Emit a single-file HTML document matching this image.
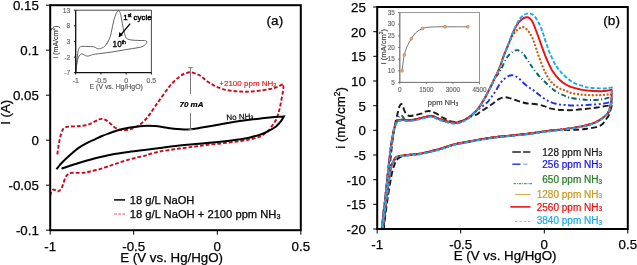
<!DOCTYPE html>
<html><head><meta charset="utf-8"><style>html,body{margin:0;padding:0;background:#fff;}body{width:637px;height:265px;overflow:hidden;position:relative;font-family:"Liberation Sans", sans-serif;}</style></head><body>
<svg width="637" height="265" viewBox="0 0 637 265" style="position:absolute;left:0;top:0;will-change:transform" font-family='"Liberation Sans", sans-serif'>
<rect x="0" y="0" width="637" height="265" fill="#fff"/>
<defs><clipPath id="cl"><rect x="50.2" y="5.2" width="250.6" height="225.0"/></clipPath><clipPath id="cr"><rect x="377.2" y="7.0" width="250.6" height="222.0"/></clipPath></defs>
<g clip-path="url(#cl)" fill="none">
<path d="M57.3,154.5 C57.5,153.3 57.9,149.9 58.3,147.5 C58.7,145.1 59.1,142.3 59.6,140.0 C60.1,137.7 60.6,135.3 61.2,133.5 C61.8,131.7 62.4,130.3 63.0,129.3 C63.6,128.3 64.1,127.9 65.1,127.4 C66.1,127.0 67.2,126.8 69.0,126.6 C70.8,126.4 73.8,126.4 75.6,126.3 C77.4,126.2 78.3,126.2 80.0,126.0 C81.7,125.8 84.1,125.6 85.8,125.3 C87.5,125.0 88.5,124.7 90.0,124.0 C91.5,123.3 93.5,122.2 95.0,121.4 C96.5,120.6 97.8,119.7 99.0,119.3 C100.2,118.9 101.0,118.8 102.1,118.9 C103.2,119.0 104.3,119.2 105.5,119.8 C106.7,120.4 107.8,121.3 109.0,122.3 C110.2,123.3 111.5,124.8 113.0,126.0 C114.5,127.2 116.3,128.5 117.9,129.2 C119.5,129.9 120.8,130.1 122.5,130.2 C124.2,130.3 126.4,130.1 128.0,129.8 C129.6,129.6 130.7,129.2 132.2,128.7 C133.7,128.1 135.5,127.4 137.0,126.5 C138.5,125.6 139.8,124.8 141.3,123.5 C142.8,122.2 144.5,120.7 146.0,119.0 C147.5,117.3 148.8,115.7 150.3,113.6 C151.8,111.5 153.4,108.8 155.0,106.5 C156.6,104.2 157.8,102.5 160.0,99.5 C162.2,96.5 165.8,91.2 168.1,88.2 C170.4,85.2 172.0,83.5 174.0,81.5 C176.0,79.5 178.4,77.4 180.2,76.1 C182.0,74.8 183.2,74.1 185.0,73.5 C186.8,72.9 188.6,72.1 190.8,72.3 C193.0,72.5 196.3,73.7 198.3,74.6 C200.3,75.5 201.5,76.6 203.0,77.8 C204.5,79.0 205.9,80.5 207.4,81.6 C208.9,82.7 210.5,83.6 212.0,84.4 C213.5,85.2 214.7,86.0 216.4,86.7 C218.1,87.4 220.2,88.2 222.0,88.8 C223.8,89.4 224.8,89.8 227.1,90.2 C229.4,90.6 233.0,91.0 236.0,91.3 C239.0,91.5 242.2,91.7 245.2,91.7 C248.2,91.7 251.0,91.5 254.0,91.3 C257.0,91.0 260.6,90.6 263.3,90.2 C266.0,89.8 268.0,89.4 270.0,89.0 C272.0,88.6 273.8,88.1 275.4,87.6 C277.0,87.1 278.2,86.5 279.5,85.9 C280.8,85.3 282.4,84.2 283.0,83.9 L283.0,83.9 C283.1,84.4 283.4,85.7 283.4,87.0 C283.4,88.3 283.2,90.0 282.9,92.0 C282.6,94.0 282.0,96.8 281.5,99.3 C281.0,101.8 280.5,104.7 280.0,107.0 C279.5,109.3 279.1,110.9 278.5,113.0 C277.9,115.1 277.1,117.6 276.2,119.5 C275.3,121.4 274.3,122.7 273.0,124.5 C271.7,126.3 270.1,128.8 268.5,130.5 C266.9,132.2 265.1,133.4 263.5,134.5 C261.9,135.6 260.9,136.4 258.7,137.2 C256.4,138.0 253.0,138.7 250.0,139.3 C247.0,140.0 244.1,140.6 240.6,141.1 C237.1,141.6 232.8,142.1 229.0,142.5 C225.2,142.9 221.8,143.4 218.0,143.8 C214.2,144.2 209.8,144.6 206.0,145.0 C202.2,145.4 199.0,146.0 195.3,146.5 C191.6,147.0 187.8,147.5 184.0,148.0 C180.2,148.5 176.7,148.9 172.7,149.5 C168.7,150.1 163.8,150.8 160.0,151.5 C156.2,152.2 152.6,153.3 150.0,154.0 C147.4,154.7 146.8,155.1 144.3,155.8 C141.8,156.5 138.0,157.2 135.0,158.0 C132.0,158.8 129.2,159.5 126.2,160.4 C123.2,161.3 120.0,162.4 117.0,163.4 C114.0,164.4 111.1,165.4 108.1,166.4 C105.1,167.4 102.0,168.6 99.0,169.4 C96.0,170.2 92.5,170.9 90.0,171.5 C87.5,172.1 86.4,172.6 84.0,172.8 C81.6,173.0 77.8,172.8 75.6,172.8 C73.4,172.8 72.2,172.7 71.0,172.9 C69.8,173.1 69.4,173.1 68.5,173.8 C67.6,174.5 66.4,175.6 65.5,177.3 C64.6,179.0 63.9,182.1 63.3,183.8 C62.7,185.5 62.4,186.4 61.9,187.5 C61.4,188.6 60.7,189.5 60.0,190.2 C59.3,190.9 58.3,191.5 57.5,191.5 C56.7,191.5 55.8,190.3 55.0,190.0 C54.2,189.7 53.6,189.3 53.0,189.6 C52.4,189.8 51.9,190.7 51.5,191.5 C51.1,192.3 50.8,193.1 50.6,194.2 C50.4,195.3 50.3,197.4 50.2,198.0" stroke="#c80a1e" stroke-width="1.9" stroke-dasharray="3.8 2" />
<path d="M56.4,169.2 C57.0,168.5 58.5,166.5 60.0,164.8 C61.5,163.2 63.4,161.2 65.4,159.3 C67.4,157.4 69.7,155.1 72.0,153.2 C74.3,151.2 76.4,149.4 79.0,147.6 C81.6,145.8 85.0,144.0 87.7,142.6 C90.4,141.2 92.6,140.4 95.0,139.3 C97.4,138.2 99.5,137.1 102.0,136.0 C104.5,134.9 107.5,133.9 110.0,133.0 C112.5,132.1 114.7,131.2 117.2,130.5 C119.7,129.8 122.5,129.1 125.0,128.6 C127.5,128.1 129.7,127.7 132.2,127.3 C134.7,126.9 137.5,126.5 140.0,126.2 C142.5,125.9 144.8,125.7 147.3,125.7 C149.8,125.7 152.3,125.8 155.0,126.0 C157.7,126.2 161.1,126.8 163.6,127.2 C166.1,127.6 167.7,127.9 170.0,128.2 C172.3,128.5 174.9,128.8 177.2,129.0 C179.5,129.2 181.7,129.4 184.0,129.4 C186.3,129.4 188.5,129.4 190.8,129.2 C193.1,129.0 195.4,128.6 198.0,128.2 C200.6,127.8 203.3,127.4 206.6,126.8 C209.9,126.2 214.2,125.5 218.0,124.8 C221.8,124.1 225.6,123.3 229.3,122.7 C233.0,122.1 236.3,121.6 240.0,121.1 C243.7,120.6 247.5,120.1 251.2,119.6 C254.9,119.1 258.5,118.7 262.0,118.3 C265.5,117.9 268.4,117.6 272.0,117.3 C275.6,117.0 281.8,116.6 283.8,116.4 L283.8,116.4 C283.3,117.2 282.3,119.4 281.0,121.1 C279.7,122.8 277.8,125.0 276.0,126.5 C274.2,128.0 272.3,128.9 270.0,130.2 C267.7,131.4 265.3,132.8 262.0,134.0 C258.7,135.2 253.6,136.6 250.0,137.5 C246.4,138.4 245.9,138.6 240.6,139.3 C235.3,140.1 225.6,141.2 218.0,142.0 C210.4,142.8 202.9,143.3 195.3,144.0 C187.8,144.7 178.6,145.5 172.7,146.2 C166.8,146.9 164.7,147.4 160.0,148.0 C155.3,148.6 149.9,149.3 144.3,150.0 C138.7,150.7 132.2,151.3 126.2,152.2 C120.2,153.1 114.1,153.9 108.1,155.2 C102.1,156.4 96.0,158.1 90.0,159.7 C84.0,161.3 76.9,163.5 72.2,165.0 C67.5,166.5 63.4,168.1 61.6,168.7" stroke="#000" stroke-width="2" />
</g>
<g stroke="#7a7a7a" stroke-width="1" fill="none">
<path d="M190.5,67.6 V94 M190.5,112.8 V129.6 M188.3,67.6 H192.7 M188.3,129.6 H192.7"/>
</g>
<text x="179.5" y="106.8" font-size="8.00" text-anchor="start" fill="#000" stroke="#000" stroke-width="0.18" font-weight="bold" font-style="italic">70 mA</text>
<text x="219.3" y="86.3" font-size="8.00" text-anchor="start" fill="#ee1c1c" stroke="#ee1c1c" stroke-width="0.18" >+2100 ppm NH<tspan font-size="5.12" dy="0.40">3</tspan></text>
<text x="226.5" y="120.2" font-size="8.00" text-anchor="start" fill="#000" stroke="#000" stroke-width="0.18" transform="rotate(-3 226.5 120.2)">No NH<tspan font-size="5.12" dy="0.40">3</tspan></text>
<text x="266.6" y="25.0" font-size="13.60" text-anchor="start" fill="#000" stroke="#000" stroke-width="0.25" >(a)</text>
<rect x="75.7" y="10.2" width="75.7" height="62.5" fill="#fff" stroke="none"/>
<g fill="none" stroke="#5a5a5a" stroke-width="0.95">
<path d="M75.9,72.5 C76.0,71.1 76.3,66.9 76.6,64.0 C76.9,61.1 77.2,57.4 77.5,55.0 C77.8,52.6 78.1,50.8 78.5,49.5 C78.9,48.2 79.2,47.7 79.8,47.2 C80.4,46.7 80.7,46.5 81.9,46.4 C83.1,46.3 85.0,46.4 87.0,46.5 C89.0,46.6 92.0,46.5 93.7,46.8 C95.4,47.1 96.2,48.2 97.2,48.5 C98.2,48.8 98.8,48.8 99.5,48.7 C100.2,48.7 100.6,48.5 101.3,48.2 C102.0,48.0 102.8,47.6 103.5,47.2 C104.2,46.8 104.8,46.3 105.4,45.6 C106.0,44.9 106.7,43.8 107.3,42.8 C107.9,41.8 108.4,41.0 109.0,39.7 C109.6,38.4 110.0,37.6 110.7,35.0 C111.4,32.4 112.3,27.1 113.0,24.0 C113.7,20.9 114.2,18.6 115.0,16.5 C115.8,14.4 116.8,12.0 117.5,11.2 C118.2,10.4 118.9,10.8 119.5,11.6 C120.1,12.4 120.5,13.6 121.0,16.0 C121.5,18.4 122.2,23.1 122.8,26.0 C123.4,28.9 124.0,31.6 124.5,33.5 C125.0,35.4 125.5,36.6 126.0,37.5 C126.5,38.4 127.0,38.7 127.8,39.1 C128.6,39.5 129.8,39.7 131.0,39.9 C132.2,40.1 133.4,40.2 134.9,40.3 C136.4,40.4 138.2,40.4 140.0,40.5 C141.8,40.6 144.4,40.5 145.5,40.7 C146.6,40.9 146.6,41.0 146.7,41.5 C146.8,42.0 146.8,42.9 146.0,43.8 C145.2,44.7 143.7,46.1 142.0,46.8 C140.3,47.5 138.2,47.6 136.0,48.0 C133.8,48.4 131.7,48.7 129.0,49.1 C126.3,49.5 123.0,50.1 120.0,50.6 C117.0,51.1 114.3,51.7 111.3,52.1 C108.3,52.5 104.9,52.9 102.0,53.3 C99.1,53.7 95.7,54.0 93.7,54.4 C91.7,54.8 91.0,55.2 90.0,55.5 C89.0,55.8 88.6,56.1 87.8,56.1 C87.0,56.1 86.3,56.0 85.4,55.6 C84.5,55.2 83.3,54.1 82.5,53.9 C81.7,53.7 81.3,54.0 80.7,54.4 C80.1,54.8 79.5,55.3 79.0,56.2 C78.5,57.1 78.0,58.4 77.6,60.0 C77.2,61.6 76.8,64.0 76.5,66.0 C76.2,68.0 76.1,71.0 76.0,72.0"/>
<path d="M106.5,44.3 C106.8,43.8 107.9,42.0 108.2,41.6"/>
</g>
<path d="M75.7,10.2 H151.4 V72.7" fill="none" stroke="#333" stroke-width="0.9"/>
<path d="M75.7,10.2 V72.7 H151.4" fill="none" stroke="#111" stroke-width="1.3"/>
<path d="M73.9,10.2 H75.7 M73.9,25.8 H75.7 M73.9,41.5 H75.7 M73.9,57.1 H75.7 M73.9,72.7 H75.7 M75.7,72.7 V74.5 M100.9,72.7 V74.5 M126.2,72.7 V74.5 M151.4,72.7 V74.5 " stroke="#111" stroke-width="1"/>
<text x="70.4" y="12.6" font-size="6.80" text-anchor="end" fill="#666" stroke="#666" stroke-width="0.15" >13</text>
<text x="70.4" y="28.2" font-size="6.80" text-anchor="end" fill="#666" stroke="#666" stroke-width="0.15" >8</text>
<text x="70.4" y="43.9" font-size="6.80" text-anchor="end" fill="#666" stroke="#666" stroke-width="0.15" >3</text>
<text x="70.4" y="59.5" font-size="6.80" text-anchor="end" fill="#666" stroke="#666" stroke-width="0.15" >-2</text>
<text x="70.4" y="75.1" font-size="6.80" text-anchor="end" fill="#666" stroke="#666" stroke-width="0.15" >-7</text>
<text x="75.7" y="83.4" font-size="6.90" text-anchor="middle" fill="#666" stroke="#666" stroke-width="0.16" >-1</text>
<text x="100.9" y="83.4" font-size="6.90" text-anchor="middle" fill="#666" stroke="#666" stroke-width="0.16" >-0.5</text>
<text x="126.2" y="83.4" font-size="6.90" text-anchor="middle" fill="#666" stroke="#666" stroke-width="0.16" >0</text>
<text x="151.4" y="83.4" font-size="6.90" text-anchor="middle" fill="#666" stroke="#666" stroke-width="0.16" >0.5</text>
<text x="89.6" y="89.2" font-size="6.90" text-anchor="start" fill="#555" stroke="#555" stroke-width="0.16" >E (V vs. Hg/HgO)</text>
<text x="0.0" y="0.0" font-size="7.10" text-anchor="middle" fill="#3a3a3a" stroke="#3a3a3a" stroke-width="0.16" transform="translate(57.9,42) rotate(-90)">i (mA/cm<tspan font-size="4.5" dy="-2.5">2</tspan><tspan dy="2.5">)</tspan></text>
<path d="M130.2,23.6 L121.0,34.6" stroke="#000" stroke-width="1.4"/>
<path d="M118.6,37.4 L119.3,31.9 L123.0,35.0 Z" fill="#000"/>
<text x="123.3" y="19.7" font-size="7.90" text-anchor="start" fill="#000" stroke="#000" stroke-width="0.42" >1<tspan font-size="4.8" dy="-2.9">st</tspan><tspan dy="2.9"> cycle</tspan></text>
<text x="112.6" y="47.4" font-size="8.20" text-anchor="start" fill="#000" stroke="#000" stroke-width="0.35" >10<tspan font-size="5" dy="-3">th</tspan></text>
<rect x="50.2" y="5.2" width="250.6" height="225.0" fill="none" stroke="#000" stroke-width="2"/>
<path d="M46.0,5.2 H50.2 M46.0,50.2 H50.2 M46.0,95.2 H50.2 M46.0,140.2 H50.2 M46.0,185.2 H50.2 M46.0,230.2 H50.2 M50.2,230.2 V234.7 M133.7,230.2 V234.7 M217.3,230.2 V234.7 M300.8,230.2 V234.7 " stroke="#000" stroke-width="1"/>
<text x="38.8" y="10.0" font-size="13.30" text-anchor="end" fill="#000" stroke="#000" stroke-width="0.25" >0.15</text>
<text x="38.8" y="55.0" font-size="13.30" text-anchor="end" fill="#000" stroke="#000" stroke-width="0.25" >0.1</text>
<text x="38.8" y="100.0" font-size="13.30" text-anchor="end" fill="#000" stroke="#000" stroke-width="0.25" >0.05</text>
<text x="38.8" y="145.0" font-size="13.30" text-anchor="end" fill="#000" stroke="#000" stroke-width="0.25" >0</text>
<text x="38.8" y="190.0" font-size="13.30" text-anchor="end" fill="#000" stroke="#000" stroke-width="0.25" >-0.05</text>
<text x="38.8" y="235.0" font-size="13.30" text-anchor="end" fill="#000" stroke="#000" stroke-width="0.25" >-0.1</text>
<text x="50.2" y="250.8" font-size="13.30" text-anchor="middle" fill="#000" stroke="#000" stroke-width="0.25" >-1</text>
<text x="133.7" y="250.8" font-size="13.30" text-anchor="middle" fill="#000" stroke="#000" stroke-width="0.25" >-0.5</text>
<text x="217.3" y="250.8" font-size="13.30" text-anchor="middle" fill="#000" stroke="#000" stroke-width="0.25" >0</text>
<text x="300.8" y="250.8" font-size="13.30" text-anchor="middle" fill="#000" stroke="#000" stroke-width="0.25" >0.5</text>
<text x="120.3" y="262.0" font-size="13.30" text-anchor="start" fill="#000" stroke="#000" stroke-width="0.25" >E (V vs. Hg/HgO)</text>
<text x="0.0" y="0.0" font-size="13.30" text-anchor="middle" fill="#000" stroke="#000" stroke-width="0.25" transform="translate(10.3,112.3) rotate(-90)">I (A)</text>
<path d="M114.1,199.9 H125.1" stroke="#000" stroke-width="1.5"/>
<path d="M114.1,214 H125.1" stroke="#e03030" stroke-width="0.9" stroke-dasharray="2.6 1.6"/>
<text x="129.8" y="203.6" font-size="11.15" text-anchor="start" fill="#000" stroke="#000" stroke-width="0.25" >18 g/L NaOH</text>
<text x="129.8" y="218.0" font-size="11.20" text-anchor="start" fill="#000" stroke="#000" stroke-width="0.25" >18 g/L NaOH + 2100 ppm NH<tspan font-size="7.17" dy="0.56">3</tspan></text>
<g clip-path="url(#cr)" fill="none">
<path d="M382.9,233.0 C383.0,232.3 383.0,232.8 383.4,229.0 C383.8,225.2 384.6,217.3 385.3,210.0 C386.1,202.7 387.0,193.3 387.9,185.0 C388.8,176.7 389.6,167.5 390.4,160.0 C391.2,152.5 391.9,145.3 392.6,140.0 C393.3,134.7 394.0,131.2 394.5,128.0 C395.0,124.8 395.3,123.5 395.8,121.0 C396.3,118.5 397.1,115.5 397.7,113.1 C398.3,110.7 398.9,107.9 399.5,106.4 C400.1,104.9 400.7,103.9 401.3,104.0 C401.9,104.1 402.5,105.7 403.1,107.0 C403.7,108.3 404.2,110.6 404.9,111.9 C405.6,113.2 406.7,114.3 407.5,115.0 C408.3,115.7 408.4,116.0 409.7,116.0 C410.9,116.0 413.1,115.6 415.0,115.2 C416.9,114.8 419.4,114.3 421.2,113.7 C423.0,113.1 424.5,111.8 426.0,111.4 C427.5,111.0 428.7,110.9 430.3,111.2 C431.9,111.5 433.6,112.2 435.6,113.2 C437.6,114.2 440.1,116.0 442.2,117.2 C444.3,118.4 446.2,119.6 448.3,120.4 C450.4,121.2 452.7,121.9 455.0,122.0 C457.3,122.1 460.0,121.6 462.0,121.0 C464.0,120.4 465.4,119.2 467.0,118.5 C468.6,117.8 469.7,117.2 471.3,116.5 C472.9,115.8 475.2,115.3 476.6,114.6 C478.1,113.8 478.6,112.9 480.0,112.0 C481.4,111.1 483.2,110.1 484.8,109.1 C486.4,108.0 488.2,106.9 489.9,105.7 C491.6,104.5 493.4,103.2 495.0,102.0 C496.6,100.8 497.6,99.6 499.3,98.8 C501.0,98.0 503.2,97.3 505.2,97.3 C507.1,97.2 509.0,98.0 511.0,98.5 C513.0,99.0 515.2,100.0 517.1,100.6 C519.0,101.2 520.4,101.8 522.2,102.3 C524.0,102.8 525.6,103.2 528.0,103.5 C530.4,103.8 533.9,103.9 536.6,104.3 C539.3,104.7 542.0,105.4 544.2,106.1 C546.4,106.8 548.1,107.8 550.0,108.3 C551.9,108.8 553.5,109.1 555.5,109.4 C557.5,109.7 559.1,109.9 562.0,110.0 C564.9,110.1 568.9,110.3 572.7,110.1 C576.5,109.9 581.0,109.4 585.0,109.0 C589.0,108.6 593.0,108.1 597.0,107.5 C601.0,106.9 606.5,105.8 609.0,105.6 C611.5,105.3 611.2,105.9 611.7,106.0 L611.7,106.0 C611.5,106.7 611.0,108.5 610.5,110.0 C610.0,111.5 609.6,113.6 608.8,115.3 C608.0,117.0 606.6,118.5 605.5,120.0 C604.4,121.5 603.6,123.3 602.0,124.5 C600.4,125.7 598.3,126.5 596.0,127.2 C593.7,127.9 590.7,128.2 588.0,128.6 C585.3,129.0 583.0,129.4 580.0,129.6 C577.0,129.8 573.9,129.9 570.0,130.0 C566.1,130.1 561.2,129.7 556.7,130.0 C552.2,130.3 547.8,131.0 543.3,131.6 C538.8,132.2 535.5,132.8 530.0,133.5 C524.5,134.2 516.2,135.0 510.6,135.6 C505.0,136.2 501.2,136.4 496.5,137.0 C491.8,137.6 487.1,138.3 482.4,139.1 C477.7,139.9 472.9,140.8 468.2,141.7 C463.5,142.6 458.7,143.3 454.1,144.5 C449.5,145.7 444.1,147.8 440.4,148.9 C436.7,150.0 434.5,150.4 432.0,151.0 C429.5,151.6 427.6,152.1 425.3,152.6 C423.0,153.1 420.5,153.6 418.0,154.0 C415.5,154.4 412.5,154.6 410.2,154.8 C407.9,155.0 406.0,154.8 404.0,155.4 C402.0,156.0 399.6,157.4 398.2,158.5 C396.8,159.6 396.3,160.7 395.6,162.0 C394.9,163.3 394.4,164.8 393.8,166.5 C393.2,168.2 392.8,169.4 392.2,172.0 C391.6,174.6 391.0,178.2 390.3,182.0 C389.6,185.8 388.9,190.3 388.2,195.0 C387.5,199.7 386.7,205.0 386.0,210.0 C385.3,215.0 384.6,221.2 384.2,225.0 C383.8,228.8 383.8,231.7 383.7,233.0" stroke="#1a1a1a" stroke-width="1.9" stroke-linecap="butt" stroke-dasharray="6 3"/>
<path d="M381.3,233.0 C381.4,232.3 381.4,232.3 381.8,229.0 C382.2,225.7 382.9,218.5 383.5,213.0 C384.1,207.5 384.8,202.8 385.5,196.0 C386.2,189.2 387.2,179.7 388.0,172.0 C388.8,164.3 389.8,155.8 390.5,150.0 C391.2,144.2 391.9,140.4 392.5,137.0 C393.1,133.6 393.3,131.9 394.0,129.4 C394.7,126.9 395.8,123.6 396.5,122.1 C397.2,120.6 397.4,120.7 398.3,120.3 C399.2,119.9 400.1,119.7 401.9,119.7 C403.7,119.7 406.7,120.4 409.1,120.3 C411.5,120.2 414.0,119.7 416.4,119.2 C418.8,118.7 421.3,117.9 423.6,117.4 C425.9,116.9 428.3,116.1 430.0,116.0 C431.7,115.9 432.6,116.2 434.0,116.6 C435.4,117.0 436.2,117.7 438.2,118.5 C440.2,119.3 444.1,120.6 446.2,121.2 C448.3,121.8 449.5,122.0 451.0,122.3 C452.5,122.6 454.0,122.8 455.4,122.8 C456.8,122.8 458.2,122.6 459.5,122.2 C460.8,121.8 462.1,121.1 463.4,120.5 C464.6,119.9 465.9,119.2 467.0,118.5 C468.1,117.8 468.8,117.5 470.0,116.5 C471.2,115.5 472.7,114.0 474.0,112.8 C475.3,111.6 476.3,110.8 478.0,109.5 C479.7,108.2 482.3,106.6 484.0,105.2 C485.7,103.8 486.9,102.7 488.2,101.3 C489.4,99.9 490.4,98.5 491.5,97.0 C492.6,95.5 493.9,93.8 495.0,92.0 C496.1,90.2 497.1,88.2 498.4,86.2 C499.7,84.2 501.1,81.9 502.7,80.3 C504.3,78.7 506.3,77.2 507.8,76.4 C509.3,75.6 510.4,75.3 511.6,75.2 C512.8,75.1 513.8,75.5 515.0,76.0 C516.2,76.5 517.5,77.3 518.8,78.4 C520.1,79.5 521.6,81.2 523.0,82.5 C524.4,83.8 526.0,85.2 527.3,86.2 C528.6,87.2 529.8,88.0 531.0,88.8 C532.2,89.6 533.3,90.1 534.5,91.0 C535.7,91.9 536.8,93.0 538.0,94.0 C539.2,95.0 540.3,95.8 542.0,97.0 C543.7,98.2 545.7,99.9 548.0,101.0 C550.3,102.1 553.0,103.1 556.0,103.8 C559.0,104.5 562.5,104.8 566.0,105.1 C569.5,105.4 573.2,105.5 577.2,105.4 C581.2,105.4 585.8,105.1 590.0,104.8 C594.2,104.5 598.9,104.2 602.2,103.8 C605.5,103.4 608.4,102.3 610.0,102.2 C611.6,102.1 611.3,102.9 611.6,103.0 L611.6,103.0 C611.6,102.3 611.8,98.1 611.6,98.7 C611.4,99.3 611.0,104.2 610.4,106.5 C609.8,108.8 609.3,110.8 608.3,112.5 C607.3,114.2 606.0,115.2 604.5,116.5 C603.0,117.8 601.4,119.0 599.4,120.2 C597.4,121.4 595.4,122.4 592.7,123.4 C590.0,124.4 587.2,125.2 583.4,126.0 C579.6,126.8 574.5,127.7 570.0,128.4 C565.5,129.1 561.2,129.5 556.7,130.0 C552.2,130.5 547.8,131.0 543.3,131.6 C538.8,132.2 535.5,132.8 530.0,133.5 C524.5,134.2 516.2,135.0 510.6,135.6 C505.0,136.2 501.2,136.4 496.5,137.0 C491.8,137.6 487.1,138.3 482.4,139.1 C477.7,139.9 472.9,140.8 468.2,141.7 C463.5,142.6 458.7,143.3 454.1,144.5 C449.5,145.7 444.1,147.8 440.4,148.9 C436.7,150.0 434.5,150.4 432.0,151.0 C429.5,151.6 427.6,152.1 425.3,152.6 C423.0,153.1 420.5,153.6 418.0,154.0 C415.5,154.4 412.5,154.6 410.2,154.8 C407.9,155.0 406.0,155.2 404.0,155.4 C402.0,155.7 399.5,155.9 398.1,156.3 C396.7,156.7 396.2,157.2 395.5,158.0 C394.8,158.8 394.2,159.8 393.6,161.0 C393.0,162.2 392.3,163.7 391.8,165.0 C391.3,166.3 391.0,166.5 390.5,169.0 C390.0,171.5 389.6,175.7 389.0,180.0 C388.4,184.3 387.7,190.0 387.0,195.0 C386.3,200.0 385.7,204.8 385.0,210.0 C384.3,215.2 383.4,222.2 383.0,226.0 C382.6,229.8 382.7,231.8 382.6,233.0" stroke="#1f2fe6" stroke-width="1.9" stroke-linecap="butt" stroke-dasharray="6 2.5 2 2.5 2 2.5"/>
<path d="M381.3,233.0 C381.4,232.3 381.4,232.3 381.8,229.0 C382.2,225.7 382.9,218.5 383.5,213.0 C384.1,207.5 384.8,202.8 385.5,196.0 C386.2,189.2 387.2,179.7 388.0,172.0 C388.8,164.3 389.8,155.8 390.5,150.0 C391.2,144.2 391.9,140.4 392.5,137.0 C393.1,133.6 393.3,132.1 394.0,129.4 C394.7,126.7 395.9,122.9 396.6,121.0 C397.3,119.1 397.4,118.7 398.0,117.8 C398.6,116.9 399.4,115.9 400.1,115.6 C400.9,115.3 401.9,115.7 402.5,116.2 C403.1,116.7 403.3,117.9 404.0,118.5 C404.7,119.1 405.6,119.7 406.5,120.0 C407.4,120.3 407.5,120.5 409.1,120.4 C410.8,120.3 414.0,119.7 416.4,119.2 C418.8,118.7 421.3,117.9 423.6,117.4 C425.9,116.9 428.3,116.1 430.0,116.0 C431.7,115.9 432.6,116.2 434.0,116.6 C435.4,117.0 436.2,117.7 438.2,118.5 C440.2,119.3 444.1,120.6 446.2,121.2 C448.3,121.8 449.5,122.0 451.0,122.3 C452.5,122.6 454.0,122.8 455.4,122.8 C456.8,122.8 458.2,122.6 459.5,122.2 C460.8,121.8 462.1,121.1 463.4,120.5 C464.6,119.9 465.9,119.2 467.0,118.5 C468.1,117.8 468.6,117.6 470.0,116.5 C471.4,115.4 473.6,113.7 475.3,111.9 C477.0,110.2 478.6,108.1 480.0,106.0 C481.4,103.9 482.7,101.8 484.0,99.5 C485.3,97.2 486.7,94.5 488.0,92.0 C489.3,89.5 490.8,86.5 492.0,84.3 C493.2,82.0 494.0,80.2 495.0,78.5 C496.0,76.8 497.1,75.5 498.0,74.2 C498.9,72.9 499.6,71.9 500.3,70.6 C501.1,69.3 501.6,68.1 502.5,66.3 C503.4,64.5 504.7,61.7 505.6,60.0 C506.5,58.3 506.9,57.6 508.0,56.2 C509.1,54.9 511.1,52.9 512.4,51.9 C513.6,50.9 514.5,50.6 515.5,50.4 C516.5,50.1 517.2,49.9 518.4,50.4 C519.6,50.9 521.5,51.9 522.9,53.3 C524.3,54.7 525.4,57.1 526.7,59.0 C528.0,60.9 529.4,62.9 530.5,64.6 C531.6,66.2 532.1,67.0 533.5,68.9 C534.9,70.8 537.3,73.9 539.0,75.8 C540.7,77.7 542.0,79.0 543.5,80.5 C545.0,82.0 546.5,83.4 548.0,84.8 C549.5,86.2 551.0,87.8 552.5,89.0 C554.0,90.2 555.2,91.2 557.0,92.2 C558.8,93.2 561.0,94.1 563.0,95.0 C565.0,95.9 566.2,96.8 569.0,97.5 C571.8,98.2 576.5,98.8 580.0,99.2 C583.5,99.6 586.7,99.9 590.0,100.0 C593.3,100.1 597.3,99.8 600.0,99.6 C602.7,99.3 604.4,98.8 606.0,98.5 C607.6,98.2 608.6,97.5 609.5,97.6 C610.4,97.7 611.2,98.8 611.6,99.0 L611.6,99.0 C611.6,99.0 611.8,97.5 611.6,98.7 C611.4,100.0 611.0,104.2 610.4,106.5 C609.8,108.8 609.3,110.8 608.3,112.5 C607.3,114.2 606.0,115.2 604.5,116.5 C603.0,117.8 601.4,119.0 599.4,120.2 C597.4,121.4 595.4,122.4 592.7,123.4 C590.0,124.4 587.2,125.2 583.4,126.0 C579.6,126.8 574.5,127.7 570.0,128.4 C565.5,129.1 561.2,129.5 556.7,130.0 C552.2,130.5 547.8,131.0 543.3,131.6 C538.8,132.2 535.5,132.8 530.0,133.5 C524.5,134.2 516.2,135.0 510.6,135.6 C505.0,136.2 501.2,136.4 496.5,137.0 C491.8,137.6 487.1,138.3 482.4,139.1 C477.7,139.9 472.9,140.8 468.2,141.7 C463.5,142.6 458.7,143.3 454.1,144.5 C449.5,145.7 444.1,147.8 440.4,148.9 C436.7,150.0 434.5,150.4 432.0,151.0 C429.5,151.6 427.6,152.1 425.3,152.6 C423.0,153.1 420.5,153.6 418.0,154.0 C415.5,154.4 412.5,154.6 410.2,154.8 C407.9,155.0 406.0,155.2 404.0,155.4 C402.0,155.7 399.5,155.9 398.1,156.3 C396.7,156.7 396.2,157.2 395.5,158.0 C394.8,158.8 394.2,159.8 393.6,161.0 C393.0,162.2 392.3,163.7 391.8,165.0 C391.3,166.3 391.0,166.5 390.5,169.0 C390.0,171.5 389.6,175.7 389.0,180.0 C388.4,184.3 387.7,190.0 387.0,195.0 C386.3,200.0 385.7,204.8 385.0,210.0 C384.3,215.2 383.4,222.2 383.0,226.0 C382.6,229.8 382.7,231.8 382.6,233.0" stroke="#0b6464" stroke-width="1.9" stroke-linecap="butt" stroke-dasharray="5 2.5 1 2.5"/>
<path d="M381.3,233.0 C381.4,232.3 381.4,232.3 381.8,229.0 C382.2,225.7 382.9,218.5 383.5,213.0 C384.1,207.5 384.8,202.8 385.5,196.0 C386.2,189.2 387.2,179.7 388.0,172.0 C388.8,164.3 389.8,155.8 390.5,150.0 C391.2,144.2 391.9,140.4 392.5,137.0 C393.1,133.6 393.3,131.9 394.0,129.4 C394.7,126.9 395.8,123.6 396.5,122.1 C397.2,120.6 397.4,120.7 398.3,120.3 C399.2,119.9 400.1,119.7 401.9,119.7 C403.7,119.7 406.7,120.4 409.1,120.3 C411.5,120.2 414.0,119.7 416.4,119.2 C418.8,118.7 421.3,117.9 423.6,117.4 C425.9,116.9 428.3,116.1 430.0,116.0 C431.7,115.9 432.6,116.2 434.0,116.6 C435.4,117.0 436.2,117.7 438.2,118.5 C440.2,119.3 444.1,120.6 446.2,121.2 C448.3,121.8 449.5,122.0 451.0,122.3 C452.5,122.6 454.0,122.8 455.4,122.8 C456.8,122.8 458.2,122.6 459.5,122.2 C460.8,121.8 462.1,121.1 463.4,120.5 C464.6,119.9 465.9,119.2 467.0,118.5 C468.1,117.8 468.6,117.6 470.0,116.5 C471.4,115.4 473.6,113.7 475.3,111.9 C477.0,110.2 478.6,108.1 480.0,106.0 C481.4,103.9 482.7,101.8 484.0,99.5 C485.3,97.2 486.7,94.6 488.0,92.0 C489.3,89.4 490.8,86.5 492.0,84.0 C493.2,81.5 493.8,79.8 495.0,77.3 C496.2,74.8 497.6,72.8 499.0,69.3 C500.4,65.8 502.1,60.2 503.6,56.2 C505.1,52.2 506.9,48.1 508.1,45.2 C509.3,42.3 510.0,40.8 511.0,38.8 C512.0,36.8 513.0,34.8 514.2,33.2 C515.4,31.6 516.9,30.1 518.3,29.1 C519.7,28.1 521.2,27.1 522.6,27.1 C524.0,27.2 525.6,28.4 526.8,29.4 C528.0,30.4 528.9,31.8 529.8,33.2 C530.7,34.6 531.6,36.4 532.4,38.0 C533.1,39.6 533.6,41.1 534.3,43.0 C535.0,44.9 535.7,47.2 536.5,49.5 C537.3,51.8 538.1,54.2 539.0,56.8 C539.9,59.4 541.0,62.5 542.0,65.0 C543.0,67.5 544.0,69.9 545.0,72.0 C546.0,74.1 547.0,75.9 548.0,77.5 C549.0,79.1 549.8,80.2 551.0,81.5 C552.2,82.8 553.5,84.3 555.0,85.5 C556.5,86.7 558.2,87.6 560.0,88.5 C561.8,89.4 564.0,90.0 566.0,90.8 C568.0,91.6 569.5,92.6 572.0,93.2 C574.5,93.8 578.0,94.3 581.0,94.6 C584.0,94.9 586.8,95.1 590.0,95.2 C593.2,95.3 597.2,95.2 600.0,95.1 C602.8,95.0 605.2,94.8 607.0,94.6 C608.8,94.4 609.7,93.8 610.5,94.0 C611.3,94.2 611.4,95.2 611.6,95.5 L611.6,95.5 C611.6,96.0 611.8,96.9 611.6,98.7 C611.4,100.5 611.0,104.2 610.4,106.5 C609.8,108.8 609.3,110.8 608.3,112.5 C607.3,114.2 606.0,115.2 604.5,116.5 C603.0,117.8 601.4,119.0 599.4,120.2 C597.4,121.4 595.4,122.4 592.7,123.4 C590.0,124.4 587.2,125.2 583.4,126.0 C579.6,126.8 574.5,127.7 570.0,128.4 C565.5,129.1 561.2,129.5 556.7,130.0 C552.2,130.5 547.8,131.0 543.3,131.6 C538.8,132.2 535.5,132.8 530.0,133.5 C524.5,134.2 516.2,135.0 510.6,135.6 C505.0,136.2 501.2,136.4 496.5,137.0 C491.8,137.6 487.1,138.3 482.4,139.1 C477.7,139.9 472.9,140.8 468.2,141.7 C463.5,142.6 458.7,143.3 454.1,144.5 C449.5,145.7 444.1,147.8 440.4,148.9 C436.7,150.0 434.5,150.4 432.0,151.0 C429.5,151.6 427.6,152.1 425.3,152.6 C423.0,153.1 420.5,153.6 418.0,154.0 C415.5,154.4 412.5,154.6 410.2,154.8 C407.9,155.0 406.0,155.2 404.0,155.4 C402.0,155.7 399.5,155.9 398.1,156.3 C396.7,156.7 396.2,157.2 395.5,158.0 C394.8,158.8 394.2,159.8 393.6,161.0 C393.0,162.2 392.3,163.7 391.8,165.0 C391.3,166.3 391.0,166.5 390.5,169.0 C390.0,171.5 389.6,175.7 389.0,180.0 C388.4,184.3 387.7,190.0 387.0,195.0 C386.3,200.0 385.7,204.8 385.0,210.0 C384.3,215.2 383.4,222.2 383.0,226.0 C382.6,229.8 382.7,231.8 382.6,233.0" stroke="#c8601a" stroke-width="2.3" stroke-linecap="round" stroke-dasharray="0.1 3.6"/>
<path d="M381.3,233.0 C381.4,232.3 381.4,232.3 381.8,229.0 C382.2,225.7 382.9,218.5 383.5,213.0 C384.1,207.5 384.8,202.8 385.5,196.0 C386.2,189.2 387.2,179.7 388.0,172.0 C388.8,164.3 389.8,155.8 390.5,150.0 C391.2,144.2 391.9,140.4 392.5,137.0 C393.1,133.6 393.3,131.9 394.0,129.4 C394.7,126.9 395.8,123.6 396.5,122.1 C397.2,120.6 397.4,120.7 398.3,120.3 C399.2,119.9 400.1,119.7 401.9,119.7 C403.7,119.7 406.7,120.4 409.1,120.3 C411.5,120.2 414.0,119.7 416.4,119.2 C418.8,118.7 421.3,117.9 423.6,117.4 C425.9,116.9 428.3,116.1 430.0,116.0 C431.7,115.9 432.6,116.2 434.0,116.6 C435.4,117.0 436.2,117.7 438.2,118.5 C440.2,119.3 444.1,120.6 446.2,121.2 C448.3,121.8 449.5,122.0 451.0,122.3 C452.5,122.6 454.0,122.8 455.4,122.8 C456.8,122.8 458.2,122.6 459.5,122.2 C460.8,121.8 462.1,121.1 463.4,120.5 C464.6,119.9 465.9,119.2 467.0,118.5 C468.1,117.8 468.6,117.6 470.0,116.5 C471.4,115.4 473.6,113.7 475.3,111.9 C477.0,110.2 478.6,108.1 480.0,106.0 C481.4,103.9 482.7,101.8 484.0,99.5 C485.3,97.2 486.7,94.6 488.0,92.0 C489.3,89.4 490.8,86.5 492.0,84.0 C493.2,81.5 493.8,79.8 495.0,77.3 C496.2,74.8 497.6,72.8 499.0,69.3 C500.4,65.8 502.1,60.2 503.6,56.2 C505.1,52.2 506.6,49.0 508.1,45.2 C509.6,41.4 511.1,36.9 512.6,33.5 C514.1,30.1 515.6,27.1 517.1,24.8 C518.6,22.5 520.1,20.8 521.6,19.5 C523.1,18.2 524.8,17.5 526.2,17.3 C527.6,17.1 528.9,17.5 530.0,18.4 C531.1,19.3 531.8,20.1 533.0,22.8 C534.2,25.5 536.0,30.5 537.5,34.5 C539.0,38.5 540.5,42.9 542.0,47.0 C543.5,51.1 544.8,55.0 546.6,59.0 C548.4,63.0 550.4,67.8 552.6,71.3 C554.8,74.8 557.3,77.8 560.0,80.3 C562.7,82.8 565.5,84.7 569.0,86.2 C572.5,87.8 577.5,88.8 581.0,89.6 C584.5,90.4 586.8,90.5 590.0,90.8 C593.2,91.1 597.2,91.2 600.0,91.2 C602.8,91.2 605.1,91.1 607.0,90.8 C608.9,90.5 610.8,89.8 611.6,89.6 L611.6,89.6 C611.6,91.1 611.8,95.9 611.6,98.7 C611.4,101.5 611.0,104.2 610.4,106.5 C609.8,108.8 609.3,110.8 608.3,112.5 C607.3,114.2 606.0,115.2 604.5,116.5 C603.0,117.8 601.4,119.0 599.4,120.2 C597.4,121.4 595.4,122.4 592.7,123.4 C590.0,124.4 587.2,125.2 583.4,126.0 C579.6,126.8 574.5,127.7 570.0,128.4 C565.5,129.1 561.2,129.5 556.7,130.0 C552.2,130.5 547.8,131.0 543.3,131.6 C538.8,132.2 535.5,132.8 530.0,133.5 C524.5,134.2 516.2,135.0 510.6,135.6 C505.0,136.2 501.2,136.4 496.5,137.0 C491.8,137.6 487.1,138.3 482.4,139.1 C477.7,139.9 472.9,140.8 468.2,141.7 C463.5,142.6 458.7,143.3 454.1,144.5 C449.5,145.7 444.1,147.8 440.4,148.9 C436.7,150.0 434.5,150.4 432.0,151.0 C429.5,151.6 427.6,152.1 425.3,152.6 C423.0,153.1 420.5,153.6 418.0,154.0 C415.5,154.4 412.5,154.6 410.2,154.8 C407.9,155.0 406.0,155.2 404.0,155.4 C402.0,155.7 399.5,155.9 398.1,156.3 C396.7,156.7 396.2,157.2 395.5,158.0 C394.8,158.8 394.2,159.8 393.6,161.0 C393.0,162.2 392.3,163.7 391.8,165.0 C391.3,166.3 391.0,166.5 390.5,169.0 C390.0,171.5 389.6,175.7 389.0,180.0 C388.4,184.3 387.7,190.0 387.0,195.0 C386.3,200.0 385.7,204.8 385.0,210.0 C384.3,215.2 383.4,222.2 383.0,226.0 C382.6,229.8 382.7,231.8 382.6,233.0" stroke="#f01010" stroke-width="1.9" stroke-linecap="butt"/>
<path d="M381.3,233.0 C381.4,232.3 381.4,232.3 381.8,229.0 C382.2,225.7 382.9,218.5 383.5,213.0 C384.1,207.5 384.8,202.8 385.5,196.0 C386.2,189.2 387.2,179.7 388.0,172.0 C388.8,164.3 389.8,155.8 390.5,150.0 C391.2,144.2 391.9,140.4 392.5,137.0 C393.1,133.6 393.3,131.7 394.0,129.4 C394.7,127.1 395.8,124.4 396.5,123.0 C397.2,121.6 397.4,121.6 398.3,121.2 C399.2,120.8 400.1,120.6 401.9,120.6 C403.7,120.6 406.7,121.3 409.1,121.2 C411.5,121.1 414.0,120.6 416.4,120.1 C418.8,119.6 421.3,118.8 423.6,118.3 C425.9,117.8 428.3,117.0 430.0,116.9 C431.7,116.8 432.6,117.1 434.0,117.5 C435.4,117.9 436.2,118.6 438.2,119.4 C440.2,120.2 444.1,121.5 446.2,122.1 C448.3,122.7 449.5,122.9 451.0,123.2 C452.5,123.5 454.0,123.7 455.4,123.7 C456.8,123.7 458.2,123.5 459.5,123.1 C460.8,122.7 462.1,122.0 463.4,121.4 C464.6,120.8 465.9,120.1 467.0,119.4 C468.1,118.7 468.6,118.7 470.0,117.4 C471.4,116.2 473.6,113.8 475.3,111.9 C477.0,110.0 478.6,108.1 480.0,106.0 C481.4,103.9 482.7,101.8 484.0,99.5 C485.3,97.2 486.7,94.6 488.0,92.0 C489.3,89.4 490.8,86.5 492.0,84.0 C493.2,81.5 493.8,79.8 495.0,77.3 C496.2,74.8 497.6,72.8 499.0,69.3 C500.4,65.8 502.1,60.2 503.6,56.2 C505.1,52.2 506.6,49.1 508.1,45.2 C509.6,41.3 511.2,36.5 512.6,33.0 C514.0,29.6 515.3,26.9 516.5,24.5 C517.7,22.1 518.8,20.1 520.0,18.5 C521.2,16.9 522.7,15.8 523.9,15.0 C525.1,14.2 526.0,13.8 527.0,13.6 C528.0,13.4 529.0,13.4 530.0,13.6 C531.0,13.8 531.9,13.9 533.0,14.8 C534.1,15.7 535.4,17.4 536.4,18.9 C537.4,20.3 538.2,21.9 539.0,23.5 C539.8,25.1 540.5,26.6 541.3,28.5 C542.1,30.4 542.5,31.6 543.6,35.0 C544.7,38.4 546.3,44.1 548.0,48.6 C549.7,53.1 552.3,58.9 554.0,62.2 C555.7,65.5 556.5,66.5 558.0,68.5 C559.5,70.5 560.7,72.1 563.0,74.3 C565.3,76.5 568.5,79.8 572.0,81.8 C575.5,83.8 581.0,85.5 584.0,86.5 C587.0,87.5 587.3,87.4 590.0,87.7 C592.7,88.0 597.2,88.3 600.0,88.4 C602.8,88.5 605.0,88.4 607.0,88.2 C609.0,88.0 611.0,87.6 611.8,87.5 L611.8,87.5 C611.8,89.4 611.8,95.5 611.6,98.7 C611.4,101.9 611.0,104.2 610.4,106.5 C609.8,108.8 609.3,110.8 608.3,112.5 C607.3,114.2 606.0,115.1 604.5,116.5 C603.0,117.9 601.4,119.5 599.4,120.7 C597.4,121.9 595.4,122.9 592.7,123.9 C590.0,124.9 587.2,125.7 583.4,126.5 C579.6,127.3 574.5,128.2 570.0,128.9 C565.5,129.6 561.2,130.0 556.7,130.5 C552.2,131.0 547.8,131.5 543.3,132.1 C538.8,132.7 535.5,133.3 530.0,134.0 C524.5,134.7 516.2,135.5 510.6,136.1 C505.0,136.7 501.2,136.9 496.5,137.5 C491.8,138.1 487.1,138.8 482.4,139.6 C477.7,140.4 472.9,141.3 468.2,142.2 C463.5,143.1 458.7,143.8 454.1,145.0 C449.5,146.2 444.1,148.3 440.4,149.4 C436.7,150.5 434.5,150.9 432.0,151.5 C429.5,152.1 427.6,152.6 425.3,153.1 C423.0,153.6 420.5,154.1 418.0,154.5 C415.5,154.9 412.5,155.1 410.2,155.3 C407.9,155.5 406.0,155.7 404.0,155.9 C402.0,156.1 399.5,156.0 398.1,156.3 C396.7,156.7 396.2,157.2 395.5,158.0 C394.8,158.8 394.2,159.8 393.6,161.0 C393.0,162.2 392.3,163.7 391.8,165.0 C391.3,166.3 391.0,166.5 390.5,169.0 C390.0,171.5 389.6,175.7 389.0,180.0 C388.4,184.3 387.7,190.0 387.0,195.0 C386.3,200.0 385.7,204.8 385.0,210.0 C384.3,215.2 383.4,222.2 383.0,226.0 C382.6,229.8 382.7,231.8 382.6,233.0" stroke="#1aabeb" stroke-width="1.9" stroke-linecap="butt" stroke-dasharray="4 2"/>
</g>
<rect x="399.8" y="12.6" width="79.7" height="69.8" fill="#fff" stroke="#8a8a8a" stroke-width="0.9"/>
<path d="M399.8,12.6 V82.4 H479.5" fill="none" stroke="#7a7a7a" stroke-width="1"/>
<path d="M398.0,12.6 H399.8 M398.0,24.2 H399.8 M398.0,35.9 H399.8 M398.0,47.5 H399.8 M398.0,59.1 H399.8 M398.0,70.8 H399.8 M398.0,82.4 H399.8 M399.8,82.4 V84.2 M426.4,82.4 V84.2 M452.9,82.4 V84.2 M479.5,82.4 V84.2 " stroke="#666" stroke-width="0.8"/>
<text x="394.8" y="14.8" font-size="6.40" text-anchor="end" fill="#666" stroke="#666" stroke-width="0.15" >35</text>
<text x="394.8" y="26.4" font-size="6.40" text-anchor="end" fill="#666" stroke="#666" stroke-width="0.15" >30</text>
<text x="394.8" y="38.1" font-size="6.40" text-anchor="end" fill="#666" stroke="#666" stroke-width="0.15" >25</text>
<text x="394.8" y="49.7" font-size="6.40" text-anchor="end" fill="#666" stroke="#666" stroke-width="0.15" >20</text>
<text x="394.8" y="61.3" font-size="6.40" text-anchor="end" fill="#666" stroke="#666" stroke-width="0.15" >15</text>
<text x="394.8" y="73.0" font-size="6.40" text-anchor="end" fill="#666" stroke="#666" stroke-width="0.15" >10</text>
<text x="394.8" y="84.6" font-size="6.40" text-anchor="end" fill="#666" stroke="#666" stroke-width="0.15" >5</text>
<text x="399.8" y="92.2" font-size="6.40" text-anchor="middle" fill="#666" stroke="#666" stroke-width="0.15" >0</text>
<text x="426.4" y="92.2" font-size="6.40" text-anchor="middle" fill="#666" stroke="#666" stroke-width="0.15" >1500</text>
<text x="452.9" y="92.2" font-size="6.40" text-anchor="middle" fill="#666" stroke="#666" stroke-width="0.15" >3000</text>
<text x="479.5" y="92.2" font-size="6.40" text-anchor="middle" fill="#666" stroke="#666" stroke-width="0.15" >4500</text>
<text x="427.7" y="105.2" font-size="7.60" text-anchor="start" fill="#444" stroke="#444" stroke-width="0.17" >ppm NH<tspan font-size="4.86" dy="0.38">3</tspan></text>
<text x="0.0" y="0.0" font-size="7.60" text-anchor="middle" fill="#444" stroke="#444" stroke-width="0.17" transform="translate(386.0,46.5) rotate(-90)">i (mA/cm<tspan font-size="5" dy="-2.7">2</tspan><tspan dy="2.7">)</tspan></text>
<path d="M402.1,70.8 C402.3,69.1 403.0,63.4 403.3,60.8 C403.7,58.1 403.7,57.2 404.3,54.9 C404.9,52.7 405.7,49.7 406.9,47.0 C408.0,44.3 409.8,41.0 411.3,38.7 C412.8,36.3 413.9,34.5 415.7,32.8 C417.6,31.1 419.8,29.4 422.5,28.4 C425.1,27.5 427.9,27.3 431.7,27.0 C435.5,26.8 439.1,26.8 445.1,26.8 C451.2,26.8 464.0,26.8 467.8,26.8" fill="none" stroke="#666" stroke-width="0.9"/>
<circle cx="402.1" cy="70.8" r="1.45" fill="#eeb07a" stroke="#a86830" stroke-width="0.5"/>
<circle cx="404.3" cy="54.9" r="1.45" fill="#eeb07a" stroke="#a86830" stroke-width="0.5"/>
<circle cx="411.3" cy="38.7" r="1.45" fill="#eeb07a" stroke="#a86830" stroke-width="0.5"/>
<circle cx="422.5" cy="28.4" r="1.45" fill="#eeb07a" stroke="#a86830" stroke-width="0.5"/>
<circle cx="445.1" cy="26.8" r="1.45" fill="#eeb07a" stroke="#a86830" stroke-width="0.5"/>
<circle cx="467.8" cy="26.8" r="1.45" fill="#eeb07a" stroke="#a86830" stroke-width="0.5"/>
<rect x="377.2" y="7.0" width="250.6" height="222.0" fill="none" stroke="#000" stroke-width="2"/>
<path d="M373.2,7.0 H377.2 M373.2,31.7 H377.2 M373.2,56.3 H377.2 M373.2,81.0 H377.2 M373.2,105.7 H377.2 M373.2,130.3 H377.2 M373.2,155.0 H377.2 M373.2,179.7 H377.2 M373.2,204.3 H377.2 M373.2,229.0 H377.2 M377.2,229.0 V233.5 M460.7,229.0 V233.5 M544.3,229.0 V233.5 M627.8,229.0 V233.5 " stroke="#000" stroke-width="1"/>
<text x="365.8" y="11.8" font-size="13.30" text-anchor="end" fill="#000" stroke="#000" stroke-width="0.25" >25</text>
<text x="365.8" y="36.5" font-size="13.30" text-anchor="end" fill="#000" stroke="#000" stroke-width="0.25" >20</text>
<text x="365.8" y="61.1" font-size="13.30" text-anchor="end" fill="#000" stroke="#000" stroke-width="0.25" >15</text>
<text x="365.8" y="85.8" font-size="13.30" text-anchor="end" fill="#000" stroke="#000" stroke-width="0.25" >10</text>
<text x="365.8" y="110.5" font-size="13.30" text-anchor="end" fill="#000" stroke="#000" stroke-width="0.25" >5</text>
<text x="365.8" y="135.1" font-size="13.30" text-anchor="end" fill="#000" stroke="#000" stroke-width="0.25" >0</text>
<text x="365.8" y="159.8" font-size="13.30" text-anchor="end" fill="#000" stroke="#000" stroke-width="0.25" >-5</text>
<text x="365.8" y="184.5" font-size="13.30" text-anchor="end" fill="#000" stroke="#000" stroke-width="0.25" >-10</text>
<text x="365.8" y="209.1" font-size="13.30" text-anchor="end" fill="#000" stroke="#000" stroke-width="0.25" >-15</text>
<text x="365.8" y="233.8" font-size="13.30" text-anchor="end" fill="#000" stroke="#000" stroke-width="0.25" >-20</text>
<text x="377.2" y="248.9" font-size="13.30" text-anchor="middle" fill="#000" stroke="#000" stroke-width="0.25" >-1</text>
<text x="460.7" y="248.9" font-size="13.30" text-anchor="middle" fill="#000" stroke="#000" stroke-width="0.25" >-0.5</text>
<text x="544.3" y="248.9" font-size="13.30" text-anchor="middle" fill="#000" stroke="#000" stroke-width="0.25" >0</text>
<text x="627.8" y="248.9" font-size="13.30" text-anchor="middle" fill="#000" stroke="#000" stroke-width="0.25" >0.5</text>
<text x="453.8" y="259.8" font-size="13.30" text-anchor="start" fill="#000" stroke="#000" stroke-width="0.25" >E (V vs. Hg/HgO)</text>
<text x="0.0" y="0.0" font-size="13.30" text-anchor="middle" fill="#000" stroke="#000" stroke-width="0.25" transform="translate(344.5,117.9) rotate(-90)">i (mA/cm<tspan font-size="8.5" dy="-5">2</tspan><tspan dy="5">)</tspan></text>
<text x="603.3" y="25.0" font-size="13.60" text-anchor="start" fill="#000" stroke="#000" stroke-width="0.25" >(b)</text>
<path d="M512.3,152.1 H520.8 M523.1,152.1 H530.3" stroke="#222" stroke-width="1.5"/>
<text x="602.0" y="155.5" font-size="10.00" text-anchor="end" fill="#1a1a1a" stroke="#1a1a1a" stroke-width="0.23" >128 ppm NH<tspan font-size="6.40" dy="0.50">3</tspan></text>
<path d="M512.3,164.2 H520.5" stroke="#2a2af0" stroke-width="1.4"/>
<path d="M523.1,164.2 H527.5" stroke="#a0a8f4" stroke-width="1.3"/>
<text x="602.0" y="167.6" font-size="10.00" text-anchor="end" fill="#1414f0" stroke="#1414f0" stroke-width="0.23" >256 ppm NH<tspan font-size="6.40" dy="0.50">3</tspan></text>
<path d="M513.5,183.7 H532.3" stroke="#2a8a2a" stroke-width="1.0" stroke-dasharray="2.6 0.9 0.9 0.9"/>
<text x="602.0" y="183.2" font-size="10.00" text-anchor="end" fill="#267a26" stroke="#267a26" stroke-width="0.23" >650 ppm NH<tspan font-size="6.40" dy="0.50">3</tspan></text>
<path d="M515.2,194.6 H530.6" stroke="#d8a838" stroke-width="1.0"/>
<text x="602.0" y="197.5" font-size="10.00" text-anchor="end" fill="#c99a22" stroke="#c99a22" stroke-width="0.23" >1280 ppm NH<tspan font-size="6.40" dy="0.50">3</tspan></text>
<path d="M510.3,206.9 H530.5" stroke="#f01010" stroke-width="1.6"/>
<text x="602.0" y="210.7" font-size="10.00" text-anchor="end" fill="#f01010" stroke="#f01010" stroke-width="0.23" >2560 ppm NH<tspan font-size="6.40" dy="0.50">3</tspan></text>
<path d="M515,221.5 H530.5" stroke="#7cd0f4" stroke-width="1.0" stroke-dasharray="2.6 1.6"/>
<text x="602.0" y="224.3" font-size="10.00" text-anchor="end" fill="#1aabeb" stroke="#1aabeb" stroke-width="0.23" >3840 ppm NH<tspan font-size="6.40" dy="0.50">3</tspan></text>
</svg>
</body></html>
